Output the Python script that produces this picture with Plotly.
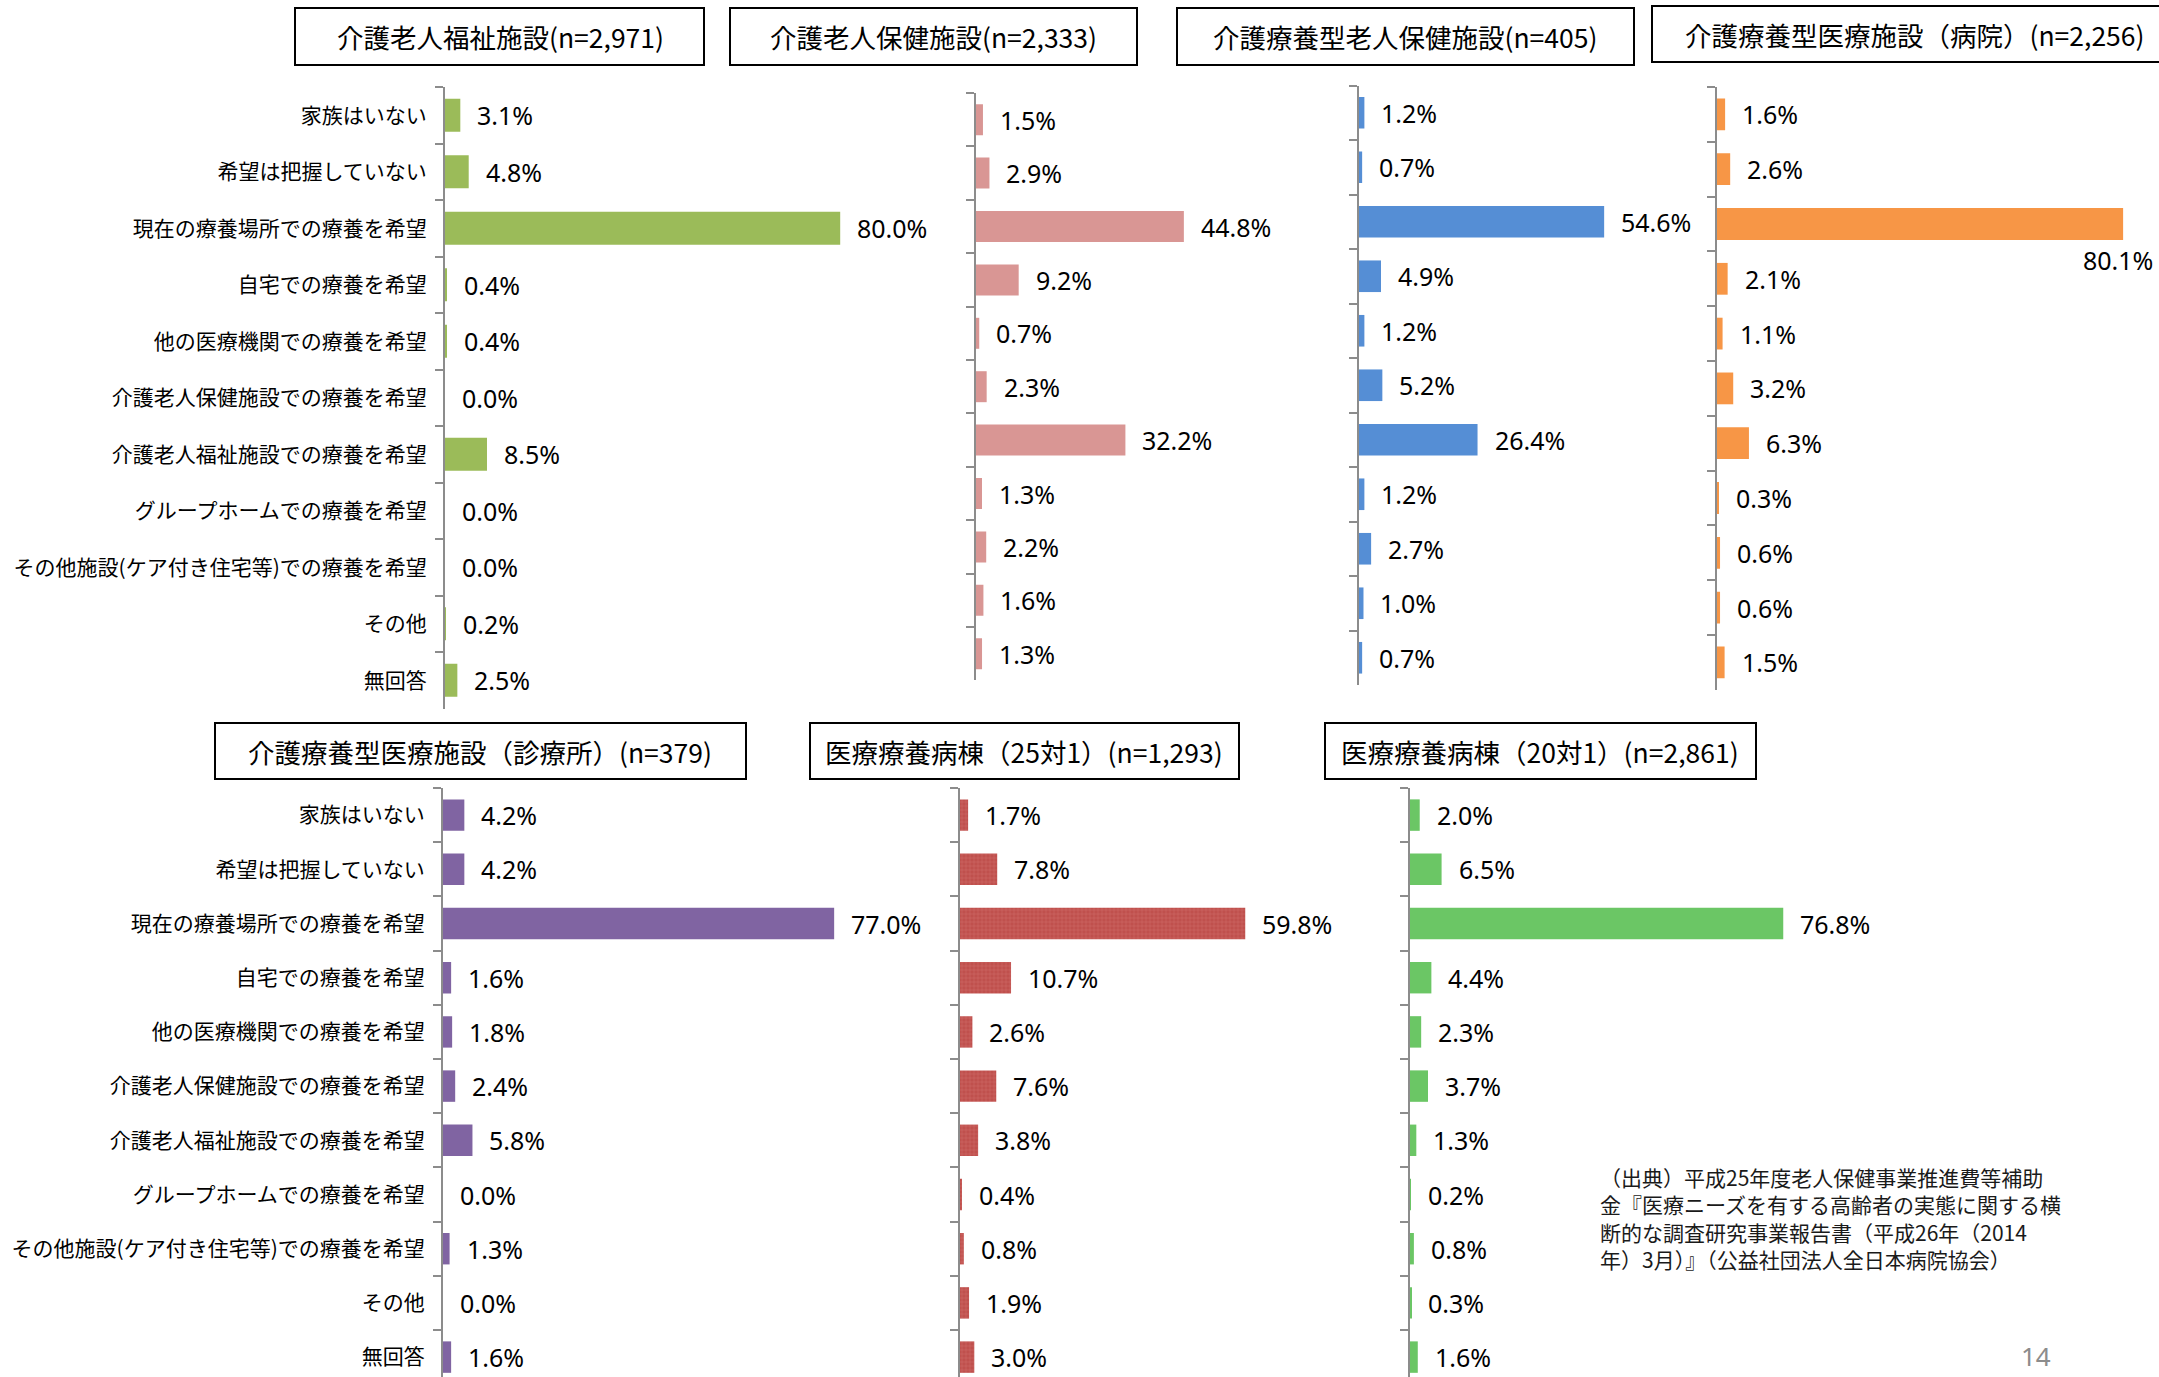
import plotly.graph_objects as go

categories = [
    "家族はいない",
    "希望は把握していない",
    "現在の療養場所での療養を希望",
    "自宅での療養を希望",
    "他の医療機関での療養を希望",
    "介護老人保健施設での療養を希望",
    "介護老人福祉施設での療養を希望",
    "グループホームでの療養を希望",
    "その他施設(ケア付き住宅等)での療養を希望",
    "その他",
    "無回答",
]

titles = [
    "介護老人福祉施設(n=2,971)",
    "介護老人保健施設(n=2,333)",
    "介護療養型老人保健施設(n=405)",
    "介護療養型医療施設（病院）(n=2,256)",
    "介護療養型医療施設（診療所）(n=379)",
    "医療療養病棟（25対1）(n=1,293)",
    "医療療養病棟（20対1）(n=2,861)",
]

v_fukushi = [3.1, 4.8, 80.0, 0.4, 0.4, 0.0, 8.5, 0.0, 0.0, 0.2, 2.5]
v_hoken = [1.5, 2.9, 44.8, 9.2, 0.7, 2.3, 32.2, 1.3, 2.2, 1.6, 1.3]
v_ryoyo_rouken = [1.2, 0.7, 54.6, 4.9, 1.2, 5.2, 26.4, 1.2, 2.7, 1.0, 0.7]
v_ryoyo_byoin = [1.6, 2.6, 80.1, 2.1, 1.1, 3.2, 6.3, 0.3, 0.6, 0.6, 1.5]
v_ryoyo_shinryo = [4.2, 4.2, 77.0, 1.6, 1.8, 2.4, 5.8, 0.0, 1.3, 0.0, 1.6]
v_iryo25 = [1.7, 7.8, 59.8, 10.7, 2.6, 7.6, 3.8, 0.4, 0.8, 1.9, 3.0]
v_iryo20 = [2.0, 6.5, 76.8, 4.4, 2.3, 3.7, 1.3, 0.2, 0.8, 0.3, 1.6]

series = [v_fukushi, v_hoken, v_ryoyo_rouken, v_ryoyo_byoin,
          v_ryoyo_shinryo, v_iryo25, v_iryo20]

source_note = ("（出典）平成25年度老人保健事業推進費等補助<br>"
               "金『医療ニーズを有する高齢者の実態に関する横<br>"
               "断的な調査研究事業報告書（平成26年（2014<br>"
               "年）3月）』（公益社団法人全日本病院協会）")
page_no = "14"

W, H = 2159, 1377
JP = "Noto Sans CJK JP"
NUM = "Noto Sans"


def fx(px):
    return px / W


def fy(py):
    return 1 - py / H


# layout styling per panel (pixel geometry)
panels = [
    dict(x0=445, k=4.94, top=87, step=56.5, color="#9BBB59", labels=True,
         box=(295, 8, 704, 65), tx=500),
    dict(x0=976, k=4.64, top=93, step=53.4, color="#D99694", labels=False,
         box=(730, 8, 1137, 65), tx=933),
    dict(x0=1359, k=4.49, top=85.5, step=54.5, color="#558ED5", labels=False,
         box=(1177, 8, 1634, 65), tx=1405),
    dict(x0=1717, k=5.07, top=87, step=54.8, color="#F79646", labels=False,
         box=(1652, 6, 2175, 62), tx=1914),
    dict(x0=443, k=5.08, top=788, step=54.2, color="#8064A2", labels=True,
         box=(215, 723, 746, 779), tx=480),
    dict(x0=960, k=4.77, top=788, step=54.2, color="#C0504D", labels=False,
         box=(810, 723, 1239, 779), tx=1024, pattern=True),
    dict(x0=1410, k=4.86, top=788, step=54.2, color="#6BC665", labels=False,
         box=(1325, 723, 1756, 779), tx=1540),
]

XMAX = 85
fig = go.Figure()
annotations = []
shapes = []
layout_axes = {}

for i, (p, vals, title) in enumerate(zip(panels, series, titles)):
    n = i + 1
    xa = "x" if n == 1 else f"x{n}"
    ya = "y" if n == 1 else f"y{n}"
    marker = dict(color=p["color"], line=dict(width=0))
    if p.get("pattern"):
        marker["pattern"] = dict(shape="+", fgcolor="#D9837F", size=4, solidity=0.25)
    fig.add_trace(go.Bar(
        x=vals, y=categories, orientation="h", xaxis=xa, yaxis=ya,
        marker=marker, showlegend=False, hoverinfo="x+y",
    ))

    bottom = min(p["top"] + 11 * p["step"], H)
    rng_bottom = -0.5 + (bottom - p["top"]) / p["step"]
    x1 = p["x0"] + XMAX * p["k"]
    layout_axes[f"xaxis{'' if n == 1 else n}"] = dict(
        domain=[fx(p["x0"]), fx(x1)], range=[0, XMAX], visible=False,
        anchor=ya, fixedrange=True,
    )
    layout_axes[f"yaxis{'' if n == 1 else n}"] = dict(
        domain=[fy(bottom), fy(p["top"])], anchor=xa,
        type="category", categoryorder="array", categoryarray=categories,
        range=[rng_bottom, -0.5],
        showline=True, linecolor="#8C8C8C", linewidth=2,
        ticks="outside", tickson="boundaries", ticklen=8, tickwidth=2,
        tickcolor="#8C8C8C", showgrid=False, zeroline=False,
        showticklabels=p["labels"], ticklabelstandoff=12,
        tickfont=dict(family=JP, size=21, color="#000000"),
    )

    for c, v in zip(categories, vals):
        if n == 4 and v == max(vals):
            annotations.append(dict(
                x=v, y=c, xref=xa, yref=ya, text=f"{v:.1f}%", showarrow=False,
                xanchor="center", yanchor="middle", xshift=-5, yshift=-36,
                font=dict(family=NUM, size=25, color="#000000"),
            ))
        else:
            annotations.append(dict(
                x=v, y=c, xref=xa, yref=ya, text=f"{v:.1f}%", showarrow=False,
                xanchor="left", yanchor="middle", xshift=15,
                font=dict(family=NUM, size=25, color="#000000"),
            ))

    bx0, by0, bx1, by1 = p["box"]
    shapes.append(dict(
        type="rect", xref="paper", yref="paper",
        x0=fx(bx0), x1=fx(bx1), y0=fy(by1), y1=fy(by0),
        line=dict(color="#000000", width=2), fillcolor="rgba(0,0,0,0)",
    ))
    annotations.append(dict(
        x=fx(p["tx"]), y=fy((by0 + by1) / 2), xref="paper", yref="paper",
        text=title, showarrow=False, xanchor="center", yanchor="middle",
        font=dict(family=JP, size=26.5, color="#000000"),
    ))

annotations.append(dict(
    x=fx(1598), y=fy(1160), xref="paper", yref="paper", text=source_note,
    showarrow=False, xanchor="left", yanchor="top", align="left",
    font=dict(family=JP, size=21, color="#1A1A1A"),
))
annotations.append(dict(
    x=fx(2036), y=fy(1376), xref="paper", yref="paper", text=page_no,
    showarrow=False, xanchor="center", yanchor="bottom",
    font=dict(family=NUM, size=26, color="#8C8C8C"),
))

fig.update_layout(
    width=W, height=H,
    margin=dict(l=0, r=0, t=0, b=0),
    paper_bgcolor="#FFFFFF", plot_bgcolor="rgba(0,0,0,0)",
    bargap=0.42, annotations=annotations, shapes=shapes,
    **layout_axes,
)

fig.write_html("out.html")
